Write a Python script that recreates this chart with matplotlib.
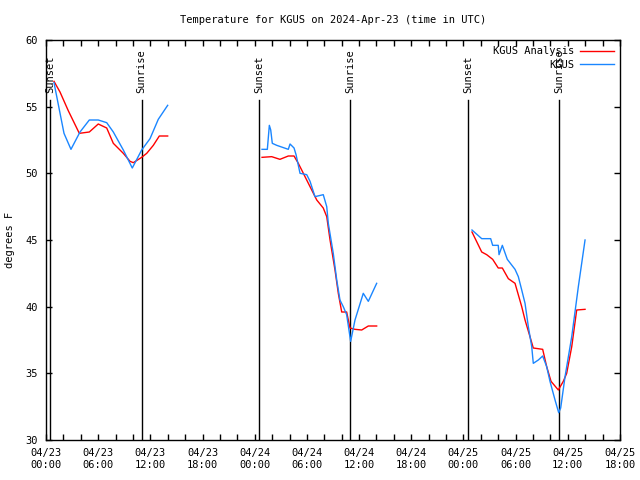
"""Temperature plot for KGUS, gnuplot look."""
from datetime import datetime, timedelta

import numpy as np
import matplotlib

matplotlib.use("Agg")
import matplotlib.pyplot as plt
import matplotlib.dates as mdates

START = datetime(2024, 4, 23, 0, 0)

# hours since 04/23 00:00 UTC, temperatures in F
obs_hours_1 = [0.92, 2.07, 2.87, 3.91, 4.98, 6.01, 6.98, 7.74, 8.89, 9.92, 11.0, 11.96, 12.91, 13.99]
obs_temps_1 = [56.8, 53.0, 51.8, 53.1, 54.0, 54.0, 53.8, 53.1, 51.75, 50.4, 51.75, 52.6, 54.05, 55.1]
obs_hours_2 = [24.84, 25.45, 25.68, 25.84, 26.02, 26.53, 27.86, 28.06, 28.52, 28.75, 29.21, 29.98,
               30.36, 30.93, 31.88, 32.28, 32.46, 33.03, 33.43, 33.8, 34.18, 34.57, 35.03, 35.53,
               36.48, 37.06, 38.02]
obs_temps_2 = [51.8, 51.8, 53.6, 53.25, 52.25, 52.1, 51.8, 52.2, 51.9, 51.4, 50.0, 49.9,
               49.4, 48.25, 48.4, 47.5, 46.25, 44.0, 42.0, 40.5, 40.0, 39.4, 37.4, 39.0,
               41.0, 40.4, 41.75]
obs_hours_3 = [48.98, 50.1, 51.13, 51.36, 52.0, 52.09, 52.47, 53.04, 53.93, 54.31, 54.7, 55.08,
               55.46, 55.85, 56.03, 56.61, 57.11, 57.57, 57.95, 58.53, 58.95, 59.18, 59.68, 60.45,
               61.21, 61.98]
obs_temps_3 = [45.75, 45.1, 45.1, 44.6, 44.6, 43.9, 44.6, 43.55, 42.8, 42.25, 41.25, 40.25,
               38.5, 37.0, 35.75, 36.0, 36.3, 35.5, 34.4, 33.0, 32.05, 32.4, 34.75, 37.75,
               41.5, 45.0]

ana_hours_1 = [0.92, 1.61, 2.56, 3.83, 4.98, 6.01, 6.98, 7.74, 8.89, 9.66, 10.04, 11.0, 11.58,
               12.34, 13.03, 13.99]
ana_temps_1 = [56.9, 56.1, 54.7, 53.0, 53.1, 53.7, 53.4, 52.25, 51.5, 50.9, 50.8, 51.2, 51.5,
               52.1, 52.8, 52.8]
ana_hours_2 = [24.84, 25.95, 26.9, 27.86, 28.52, 29.01, 29.4, 30.36, 31.13, 31.88, 32.28, 32.66,
               33.23, 33.61, 34.0, 34.57, 34.95, 35.53, 36.3, 37.06, 38.02]
ana_temps_2 = [51.2, 51.25, 51.05, 51.3, 51.3, 50.75, 50.25, 49.0, 48.0, 47.4, 46.75, 45.0,
               42.75, 41.0, 39.6, 39.6, 38.4, 38.3, 38.25, 38.55, 38.55]
ana_hours_3 = [48.98, 50.1, 50.67, 51.36, 52.0, 52.47, 53.16, 53.93, 54.7, 55.08, 55.65, 56.03,
               57.11, 57.57, 58.07, 58.91, 59.48, 59.87, 60.45, 61.02, 61.98]
ana_temps_3 = [45.6, 44.1, 43.9, 43.55, 42.9, 42.9, 42.1, 41.75, 40.0, 39.0, 37.75, 36.9,
               36.8, 35.5, 34.4, 33.75, 34.4, 35.0, 37.0, 39.75, 39.8]

sun_hours = [0.46, 11.0, 24.53, 34.98, 48.56, 59.02]
sun_labels = ["Sunset", "Sunrise", "Sunset", "Sunrise", "Sunset", "Sunrise"]
sun_line_top = 55.5


def join(*parts):
    # glue the daily segments with a NaN so the line breaks between them
    hours, temps = [], []
    for h, t in parts:
        if hours:
            hours.append(np.nan)
            temps.append(np.nan)
        hours.extend(h)
        temps.extend(t)
    return np.array(hours, dtype=float), temps


def hours_to_num(hours):
    return np.asarray(hours, dtype=float) / 24.0 + mdates.date2num(START)


plt.rcParams["font.family"] = "DejaVu Sans Mono"
plt.rcParams["font.size"] = 7.5

fig = plt.figure(figsize=(6.4, 4.8), dpi=100)
ax = fig.add_axes([46 / 640, 40 / 480, 574 / 640, 400 / 480])

# sunrise / sunset markers
for h, lab in zip(sun_hours, sun_labels):
    x = hours_to_num(h)
    ax.plot([x, x], [30, sun_line_top], color="black", linewidth=1.0)
    ax.text(x, 56.05, lab, rotation=90, ha="center", va="bottom", fontsize=7.5)

ana_h, ana_t = join((ana_hours_1, ana_temps_1), (ana_hours_2, ana_temps_2), (ana_hours_3, ana_temps_3))
obs_h, obs_t = join((obs_hours_1, obs_temps_1), (obs_hours_2, obs_temps_2), (obs_hours_3, obs_temps_3))

ax.plot(hours_to_num(ana_h), ana_t, color="#ff0000", linewidth=1.0, label="KGUS Analysis")
ax.plot(hours_to_num(obs_h), obs_t, color="#1a86ff", linewidth=1.0, label="KGUS")

ax.set_xlim(START, START + timedelta(hours=66))
ax.set_ylim(30, 60)
ax.xaxis.set_major_locator(mdates.HourLocator(byhour=[0, 6, 12, 18]))
ax.xaxis.set_minor_locator(mdates.HourLocator(interval=2))
ax.xaxis.set_major_formatter(mdates.DateFormatter("%m/%d\n%H:%M"))
ax.set_yticks(range(30, 61, 5))

ax.tick_params(which="both", direction="in", top=True, right=True, length=4, width=1,
               labelsize=7.5, pad=6)
for s in ax.spines.values():
    s.set_linewidth(1.0)

ax.set_ylabel("degrees F", fontsize=7.5, labelpad=7)
ax.set_title("Temperature for KGUS on 2024-Apr-23 (time in UTC)", fontsize=7.5, pad=12)

ax.legend(loc="upper right", frameon=False, markerfirst=False, handlelength=3.2,
          borderaxespad=0.2, labelspacing=0.35, handletextpad=0.6, fontsize=7.5)

plt.savefig("out.png", dpi=100)
plt.close()
